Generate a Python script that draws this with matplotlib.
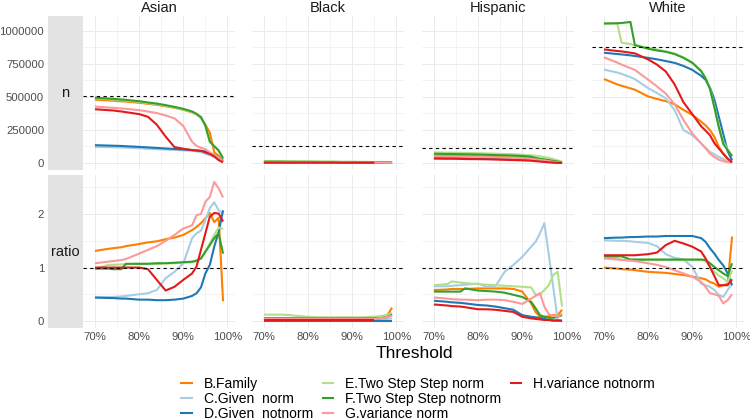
# recreate facet chart: n / ratio by race and threshold
import matplotlib
matplotlib.use('Agg')
import matplotlib.pyplot as plt
from matplotlib.lines import Line2D
import numpy as np

matplotlib.rcParams['font.family'] = 'Liberation Sans'

# threshold (%)
threshold = [70, 73, 74, 76, 77, 80, 82, 84, 86, 88, 90, 92, 93, 94, 95, 96, 97, 98, 99]

methods = ['B.Family', 'C.Given  norm', 'D.Given  notnorm', 'E.Two Step Step norm',
           'F.Two Step Step notnorm', 'G.variance norm', 'H.variance notnorm']
races = ['Asian', 'Black', 'Hispanic', 'White']

# reference (dashed) lines
ref_n = [505000, 130000, 112000, 880000]
ref_ratio = [1, 1, 1, 1]

# n row, values in thousands
asian_n = {
    'B': [480, 474, 472, 467, 465, 456, 448, 440, 430, 418, 403, 383, 368, 340, 290, 230, 80, 55, 15],
    'C': [122, 120, 119, 117, 116, 112, 108, 105, 102, 99, 96, 92, 88, 82, 70, 58, 45, 28, 12],
    'D': [135, 132, 131, 129, 127, 122, 118, 114, 110, 106, 102, 98, 95, 92, 88, 75, 60, 38, 18],
    'E': [490, 483, 481, 476, 473, 463, 453, 445, 433, 420, 405, 385, 370, 345, 280, 160, 125, 92, 33],
    'F': [495, 488, 486, 481, 478, 468, 458, 450, 438, 425, 410, 390, 372, 348, 283, 162, 128, 95, 35],
    'G': [427, 420, 418, 413, 410, 400, 390, 378, 360, 338, 280, 160, 130, 115, 105, 80, 60, 40, 12],
    'H': [407, 400, 398, 390, 385, 370, 350, 290, 200, 120, 108, 98, 95, 92, 80, 68, 50, 22, 5],
}
black_n = {
    'B': [6, 6, 6, 6, 6, 6, 6, 6, 5, 5, 5, 5, 5, 5, 5, 4, 4, 4, 3],
    'C': [5, 5, 5, 5, 5, 5, 5, 5, 5, 4, 4, 4, 4, 4, 4, 3, 3, 3, 2],
    'D': [4, 4, 4, 4, 4, 4, 4, 4, 4, 4, 3, 3, 3, 3, 3, 3, 2, 2, 2],
    'E': [15, 14, 14, 13, 13, 12, 12, 11, 11, 10, 10, 9, 9, 8, 8, 7, 7, 6, 5],
    'F': [10, 10, 10, 9, 9, 9, 8, 8, 8, 7, 7, 7, 6, 6, 6, 5, 5, 5, 4],
    'G': [5, 5, 5, 5, 5, 5, 5, 5, 5, 5, 4, 4, 4, 4, 4, 3, 3, 3, 2],
    'H': [3, 3, 3, 3, 3, 3, 3, 3, 3, 2, 2, 2, 2, 2, 2, np.nan, np.nan, np.nan, np.nan],
}
hispanic_n = {
    'B': [55, 54, 54, 53, 52, 50, 48, 46, 44, 42, 40, 36, 32, 28, 24, 18, 12, 7, 3],
    'C': [45, 44, 44, 43, 42, 41, 40, 38, 36, 34, 32, 28, 24, 20, 16, 12, 8, 4, 2],
    'D': [40, 39, 39, 38, 37, 36, 35, 33, 31, 29, 27, 23, 20, 16, 12, 9, 6, 3, 1],
    'E': [80, 78, 78, 77, 76, 74, 72, 70, 68, 66, 63, 58, 55, 50, 45, 38, 30, 20, 10],
    'F': [70, 68, 68, 67, 66, 64, 62, 60, 58, 56, 53, 48, 38, 32, 27, 22, 16, 10, 5],
    'G': [50, 49, 49, 48, 47, 45, 44, 42, 40, 38, 35, 31, 27, 23, 19, 14, 9, 5, 2],
    'H': [33, 32, 32, 31, 30, 29, 28, 26, 24, 22, 20, 17, 14, 11, 8, 5, 3, 1, 0],
}
white_n = {
    'B': [636, 595, 585, 565, 555, 504, 485, 468, 445, 402, 364, 313, 285, 249, 198, 122, 71, 33, 8],
    'C': [707, 685, 675, 650, 635, 567, 530, 490, 400, 249, 211, 148, 115, 84, 65, 46, 30, 12, 3],
    'D': [835, 825, 822, 815, 810, 796, 785, 772, 758, 735, 705, 660, 630, 570, 480, 350, 220, 90, 20],
    'E': [1056, 1058, 911, 900, 890, 873, 860, 845, 828, 800, 762, 700, 645, 565, 430, 285, 160, 105, 58],
    'F': [1056, 1058, 1060, 1068, 893, 865, 852, 842, 825, 796, 758, 695, 640, 560, 420, 270, 145, 97, 51],
    'G': [801, 760, 745, 718, 705, 631, 580, 525, 445, 326, 224, 148, 112, 71, 45, 25, 14, 7, 3],
    'H': [860, 848, 845, 835, 830, 784, 745, 693, 595, 460, 370, 278, 245, 210, 150, 110, 70, 33, 5],
}

# ratio row
asian_ratio = {
    'B': [1.31, 1.35, 1.36, 1.38, 1.40, 1.44, 1.47, 1.49, 1.53, 1.56, 1.61, 1.70, 1.76, 1.83, 1.92, 2.02, 1.85, 1.93, 0.37],
    'C': [0.44, 0.45, 0.45, 0.46, 0.47, 0.50, 0.52, 0.58, 0.80, 0.92, 1.08, 1.55, 1.64, 1.69, 1.89, 2.11, 2.22, 2.07, 2.01],
    'D': [0.44, 0.43, 0.43, 0.42, 0.42, 0.40, 0.40, 0.39, 0.39, 0.40, 0.42, 0.47, 0.52, 0.63, 0.89, 1.05, 1.39, 1.67, 2.07],
    'E': [0.97, 1.05, 1.05, 1.06, 1.06, 1.07, 1.07, 1.07, 1.08, 1.08, 1.09, 1.10, 1.12, 1.17, 1.28, 1.45, 1.61, 1.75, 1.72],
    'F': [0.98, 0.98, 0.97, 0.97, 1.07, 1.07, 1.07, 1.08, 1.08, 1.09, 1.10, 1.11, 1.13, 1.17, 1.30, 1.42, 1.55, 1.64, 1.26],
    'G': [1.08, 1.11, 1.12, 1.14, 1.16, 1.26, 1.33, 1.40, 1.50, 1.61, 1.73, 1.79, 1.98, 2.00, 2.23, 2.32, 2.60, 2.48, 2.31],
    'H': [1.00, 1.00, 1.00, 1.00, 1.00, 1.00, 0.97, 0.77, 0.57, 0.64, 0.77, 0.89, 1.02, 1.33, 1.64, 1.95, 2.02, 2.01, 1.86],
}
black_ratio = {
    'B': [0.05, 0.05, 0.05, 0.05, 0.05, 0.05, 0.05, 0.05, 0.05, 0.05, 0.05, 0.05, 0.05, 0.05, 0.05, 0.06, 0.08, 0.12, 0.25],
    'C': [0.03, 0.03, 0.03, 0.03, 0.03, 0.03, 0.03, 0.03, 0.03, 0.03, 0.03, 0.03, 0.03, 0.03, 0.03, 0.03, 0.03, 0.04, 0.05],
    'D': [0.01, 0.01, 0.01, 0.01, 0.01, 0.01, 0.01, 0.01, 0.01, 0.01, 0.01, 0.01, 0.01, 0.01, 0.01, 0.01, 0.01, 0.01, 0.01],
    'E': [0.12, 0.12, 0.12, 0.11, 0.10, 0.08, 0.07, 0.07, 0.07, 0.07, 0.07, 0.07, 0.07, 0.08, 0.08, 0.09, 0.10, 0.12, 0.15],
    'F': [0.05, 0.05, 0.05, 0.05, 0.05, 0.05, 0.05, 0.05, 0.05, 0.05, 0.05, 0.05, 0.05, 0.05, 0.05, 0.05, 0.06, 0.08, 0.12],
    'G': [0.04, 0.04, 0.04, 0.04, 0.04, 0.04, 0.04, 0.04, 0.04, 0.04, 0.04, 0.04, 0.04, 0.04, 0.04, 0.05, 0.06, 0.08, 0.10],
    'H': [0.02, 0.02, 0.02, 0.02, 0.02, 0.02, 0.02, 0.02, 0.02, 0.02, 0.02, 0.02, 0.02, 0.02, 0.02, np.nan, np.nan, np.nan, np.nan],
}
hispanic_ratio = {
    'B': [0.58, 0.59, 0.60, 0.60, 0.60, 0.61, 0.61, 0.61, 0.61, 0.60, 0.55, 0.33, 0.17, 0.08, 0.08, 0.09, 0.11, 0.11, 0.21],
    'C': [0.65, 0.65, 0.66, 0.67, 0.68, 0.70, 0.64, 0.66, 0.92, 1.05, 1.20, 1.39, 1.48, 1.64, 1.83, 1.23, 0.64, 0.02, 0.00],
    'D': [0.38, 0.36, 0.35, 0.34, 0.33, 0.30, 0.29, 0.27, 0.24, 0.21, 0.11, 0.08, 0.07, 0.06, 0.04, 0.02, 0.01, 0.01, 0.00],
    'E': [0.67, 0.69, 0.74, 0.72, 0.71, 0.69, 0.68, 0.67, 0.66, 0.65, 0.64, 0.63, 0.49, 0.50, 0.58, 0.67, 0.86, 0.92, 0.27],
    'F': [0.55, 0.55, 0.55, 0.55, 0.61, 0.57, 0.56, 0.55, 0.53, 0.49, 0.45, 0.36, 0.24, 0.11, 0.08, 0.06, 0.06, 0.08, 0.11],
    'G': [0.44, 0.42, 0.41, 0.40, 0.40, 0.39, 0.40, 0.40, 0.39, 0.36, 0.32, 0.42, 0.47, 0.52, 0.27, 0.13, 0.10, 0.08, 0.14],
    'H': [0.31, 0.29, 0.28, 0.27, 0.26, 0.22, 0.22, 0.21, 0.19, 0.17, 0.08, 0.05, 0.04, 0.03, 0.02, 0.02, 0.01, 0.01, 0.01],
}
white_ratio = {
    'B': [1.00, 0.98, 0.97, 0.96, 0.95, 0.92, 0.91, 0.90, 0.88, 0.86, 0.83, 0.80, 0.78, 0.73, 0.70, 0.64, 0.67, 0.70, 1.58],
    'C': [1.51, 1.50, 1.50, 1.49, 1.48, 1.46, 1.40, 1.25, 1.18, 1.15, 1.01, 0.70, 0.67, 0.64, 0.58, 0.49, 0.45, 0.58, 0.70],
    'D': [1.55, 1.56, 1.56, 1.57, 1.57, 1.58, 1.58, 1.59, 1.59, 1.59, 1.59, 1.55, 1.48, 1.36, 1.26, 1.14, 1.04, 0.89, 0.67],
    'E': [1.20, 1.17, 1.15, 1.13, 1.13, 1.14, 1.14, 1.14, 1.14, 1.14, 1.14, 1.14, 1.13, 1.01, 0.92, 0.85, 0.80, 0.73, 0.95],
    'F': [1.21, 1.21, 1.21, 1.15, 1.15, 1.15, 1.15, 1.15, 1.15, 1.15, 1.15, 1.15, 1.14, 1.08, 1.01, 0.95, 0.89, 0.84, 1.08],
    'G': [1.17, 1.15, 1.14, 1.13, 1.12, 1.08, 1.05, 1.01, 0.95, 0.89, 0.83, 0.73, 0.64, 0.52, 0.50, 0.47, 0.33, 0.39, 0.50],
    'H': [1.23, 1.23, 1.23, 1.23, 1.23, 1.25, 1.28, 1.42, 1.50, 1.45, 1.39, 1.30, 1.17, 1.01, 0.84, 0.67, 0.67, 0.67, 0.78],
}

n_data = [asian_n, black_n, hispanic_n, white_n]
ratio_data = [asian_ratio, black_ratio, hispanic_ratio, white_ratio]

colors = {'B': '#FF7F00', 'C': '#A6CEE3', 'D': '#1F78B4', 'E': '#B2DF8A',
          'F': '#33A02C', 'G': '#FB9A99', 'H': '#E31A1C'}
keys = ['B', 'C', 'D', 'E', 'F', 'G', 'H']

W, H = 750, 420
fig = plt.figure(figsize=(7.5, 4.2), dpi=100)


def px_axes(x0, y0, x1, y1):
    return fig.add_axes([x0 / W, 1 - y1 / H, (x1 - x0) / W, (y1 - y0) / H])


col_px = [(83, 235), (252, 404), (422, 574), (592, 744)]
row_px = [(16, 170), (175, 328)]
grid_c = '#EBEBEB'
text_c = '#4D4D4D'

for r, (y0, y1) in enumerate(row_px):
    # row strip on the left
    sax = px_axes(48, y0, 83, y1)
    sax.set_facecolor('#E3E3E3')
    sax.set_xticks([])
    sax.set_yticks([])
    for s in sax.spines.values():
        s.set_visible(False)
    sax.text(0.5, 0.5, ['n', 'ratio'][r], transform=sax.transAxes,
             ha='center', va='center', fontsize=10.5, color='#1A1A1A')

    for c, (x0, x1) in enumerate(col_px):
        ax = px_axes(x0, y0, x1, y1)
        data = n_data[c] if r == 0 else ratio_data[c]
        scale = 1000 if r == 0 else 1
        for k in keys:
            ax.plot(threshold, np.array(data[k], dtype=float) * scale,
                    color=colors[k], linewidth=1.5, solid_capstyle='butt', zorder=3)
        ref = ref_n[c] if r == 0 else ref_ratio[c]
        ax.axhline(ref, color='black', linestyle=(0, (3, 3)), linewidth=0.8, zorder=4)

        ax.set_xlim(67.3, 101.7)
        if r == 0:
            ax.set_ylim(-53000, 1113000)
            ax.set_yticks([0, 250000, 500000, 750000, 1000000])
            ax.set_yticks([125000, 375000, 625000, 875000], minor=True)
        else:
            ax.set_ylim(-0.13, 2.73)
            ax.set_yticks([0, 1, 2])
            ax.set_yticks([0.5, 1.5, 2.5], minor=True)
        ax.set_xticks([70, 80, 90, 100])
        ax.set_xticks([75, 85, 95], minor=True)
        ax.grid(which='major', color=grid_c, linewidth=0.7)
        ax.grid(which='minor', color=grid_c, linewidth=0.4)
        ax.set_axisbelow(True)
        for s in ax.spines.values():
            s.set_visible(False)
        ax.tick_params(which='both', length=0, labelsize=8.2, labelcolor=text_c)
        ax.tick_params(axis='y', pad=28)
        ax.tick_params(axis='x', pad=3)
        if r == 0:
            ax.set_xticklabels([])
            ax.set_title(races[c], fontsize=10.5, color='#1A1A1A', pad=3)
        else:
            ax.set_xticklabels(['70%', '80%', '90%', '100%'])
        if c == 0:
            if r == 0:
                ax.set_yticklabels(['0', '250000', '500000', '750000', '1000000'])
            else:
                ax.set_yticklabels(['0', '1', '2'])
        else:
            ax.set_yticklabels([])

fig.text(414 / W, 1 - 353 / H, 'Threshold', ha='center', va='center',
         fontsize=12.5, color='black')

# legend, filled column-wise; blank entries keep H alone in last column
handles = [Line2D([0], [0], color=colors[k], linewidth=1.5) for k in keys]
labels = list(methods)
handles += [Line2D([0], [0], alpha=0), Line2D([0], [0], alpha=0)]
labels += ['', '']
fig.legend(handles, labels, ncol=3, loc='center', bbox_to_anchor=(418 / W, 1 - 399 / H),
           frameon=False, fontsize=10, handlelength=0.75, handletextpad=0.85,
           columnspacing=0.7, labelspacing=0.08, borderpad=0)

fig.savefig('out.png', dpi=100)
